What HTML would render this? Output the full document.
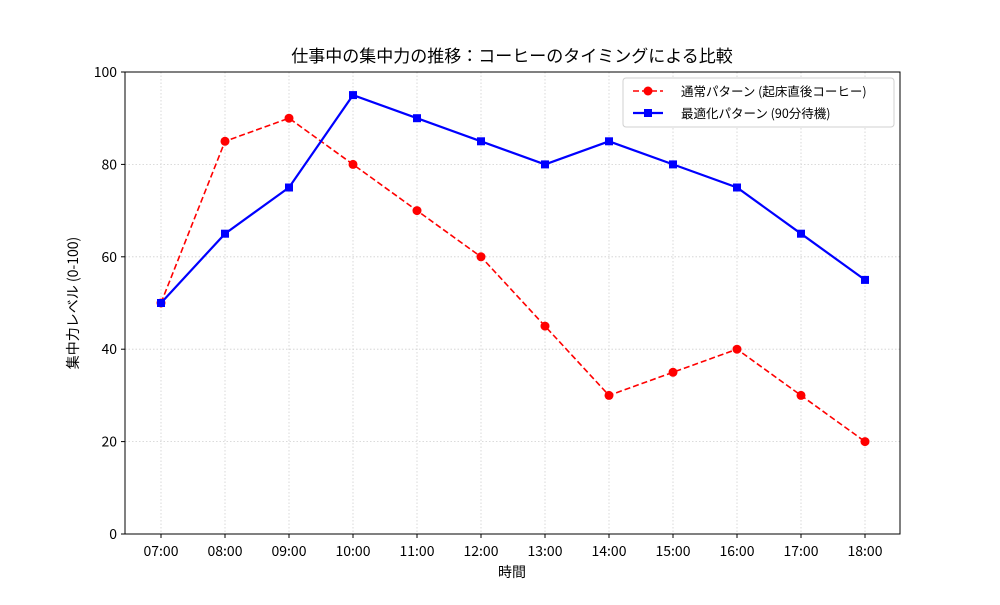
<!DOCTYPE html>
<html><head><meta charset="utf-8"><style>
body{margin:0;background:#fff}
text{font-family:"Noto Sans CJK JP","Liberation Sans",sans-serif;fill:#000}
</style></head><body>
<svg width="1000" height="600" xmlns="http://www.w3.org/2000/svg">
<rect width="1000" height="600" fill="#fff"/>
<g stroke="#cfcfcf" stroke-width="0.8" stroke-dasharray="1.5,2">
<line x1="161" y1="72" x2="161" y2="534"/><line x1="225" y1="72" x2="225" y2="534"/><line x1="289" y1="72" x2="289" y2="534"/><line x1="353" y1="72" x2="353" y2="534"/><line x1="417" y1="72" x2="417" y2="534"/><line x1="481" y1="72" x2="481" y2="534"/><line x1="545" y1="72" x2="545" y2="534"/><line x1="609" y1="72" x2="609" y2="534"/><line x1="673" y1="72" x2="673" y2="534"/><line x1="737" y1="72" x2="737" y2="534"/><line x1="801" y1="72" x2="801" y2="534"/><line x1="865" y1="72" x2="865" y2="534"/>
<line x1="125" y1="441.6" x2="900" y2="441.6"/><line x1="125" y1="349.2" x2="900" y2="349.2"/><line x1="125" y1="256.8" x2="900" y2="256.8"/><line x1="125" y1="164.4" x2="900" y2="164.4"/>
</g>
<rect x="125" y="72" width="775" height="462" fill="none" stroke="#000" stroke-width="1"/>
<g stroke="#000">
<line x1="161" y1="534" x2="161" y2="538"/><line x1="225" y1="534" x2="225" y2="538"/><line x1="289" y1="534" x2="289" y2="538"/><line x1="353" y1="534" x2="353" y2="538"/><line x1="417" y1="534" x2="417" y2="538"/><line x1="481" y1="534" x2="481" y2="538"/><line x1="545" y1="534" x2="545" y2="538"/><line x1="609" y1="534" x2="609" y2="538"/><line x1="673" y1="534" x2="673" y2="538"/><line x1="737" y1="534" x2="737" y2="538"/><line x1="801" y1="534" x2="801" y2="538"/><line x1="865" y1="534" x2="865" y2="538"/>
<line x1="121" y1="534" x2="125" y2="534"/><line x1="121" y1="441.6" x2="125" y2="441.6"/><line x1="121" y1="349.2" x2="125" y2="349.2"/><line x1="121" y1="256.8" x2="125" y2="256.8"/><line x1="121" y1="164.4" x2="125" y2="164.4"/><line x1="121" y1="72" x2="125" y2="72"/>
</g>
<g font-size="14" text-anchor="middle">
<text x="161" y="556">07:00</text><text x="225" y="556">08:00</text><text x="289" y="556">09:00</text><text x="353" y="556">10:00</text><text x="417" y="556">11:00</text><text x="481" y="556">12:00</text><text x="545" y="556">13:00</text><text x="609" y="556">14:00</text><text x="673" y="556">15:00</text><text x="737" y="556">16:00</text><text x="801" y="556">17:00</text><text x="865" y="556">18:00</text>
</g>
<g font-size="14" text-anchor="end">
<text x="117" y="539">0</text><text x="117" y="446.6">20</text><text x="117" y="354.2">40</text><text x="117" y="261.8">60</text><text x="117" y="169.4">80</text><text x="117" y="77">100</text>
</g>
<text x="512" y="577" font-size="14" text-anchor="middle">時間</text>
<text transform="translate(78,303) rotate(-90)" font-size="14" text-anchor="middle">集中力レベル (0-100)</text>
<text x="512" y="62" font-size="17" text-anchor="middle">仕事中の集中力の推移：コーヒーのタイミングによる比較</text>
<polyline fill="none" stroke="#f00" stroke-width="1.6" stroke-dasharray="6,3" points="161,303 225,141.3 289,118.2 353,164.4 417,210.6 481,256.8 545,326.1 609,395.4 673,372.3 737,349.2 801,395.4 865,441.6"/>
<g fill="#f00">
<circle cx="161" cy="303" r="4.5"/><circle cx="225" cy="141.3" r="4.5"/><circle cx="289" cy="118.2" r="4.5"/><circle cx="353" cy="164.4" r="4.5"/><circle cx="417" cy="210.6" r="4.5"/><circle cx="481" cy="256.8" r="4.5"/><circle cx="545" cy="326.1" r="4.5"/><circle cx="609" cy="395.4" r="4.5"/><circle cx="673" cy="372.3" r="4.5"/><circle cx="737" cy="349.2" r="4.5"/><circle cx="801" cy="395.4" r="4.5"/><circle cx="865" cy="441.6" r="4.5"/>
</g>
<polyline fill="none" stroke="#00f" stroke-width="2.2" points="161,303 225,233.7 289,187.5 353,95.1 417,118.2 481,141.3 545,164.4 609,141.3 673,164.4 737,187.5 801,233.7 865,279.9"/>
<g fill="#00f">
<rect x="157" y="299" width="8" height="8"/><rect x="221" y="229.7" width="8" height="8"/><rect x="285" y="183.5" width="8" height="8"/><rect x="349" y="91.1" width="8" height="8"/><rect x="413" y="114.2" width="8" height="8"/><rect x="477" y="137.3" width="8" height="8"/><rect x="541" y="160.4" width="8" height="8"/><rect x="605" y="137.3" width="8" height="8"/><rect x="669" y="160.4" width="8" height="8"/><rect x="733" y="183.5" width="8" height="8"/><rect x="797" y="229.7" width="8" height="8"/><rect x="861" y="275.9" width="8" height="8"/>
</g>
<rect x="623" y="78" width="271" height="49" rx="3" fill="#fff" stroke="#d0d0d0" stroke-width="1"/>
<line x1="633" y1="91" x2="663" y2="91" stroke="#f00" stroke-width="1.6" stroke-dasharray="6,3"/>
<circle cx="648" cy="91" r="4.5" fill="#f00"/>
<text x="681" y="96" font-size="12.5">通常パターン (起床直後コーヒー)</text>
<line x1="633" y1="113" x2="663" y2="113" stroke="#00f" stroke-width="2.2"/>
<rect x="644" y="109" width="8" height="8" fill="#00f"/>
<text x="681" y="118" font-size="12.5">最適化パターン (90分待機)</text>
</svg>
</body></html>
